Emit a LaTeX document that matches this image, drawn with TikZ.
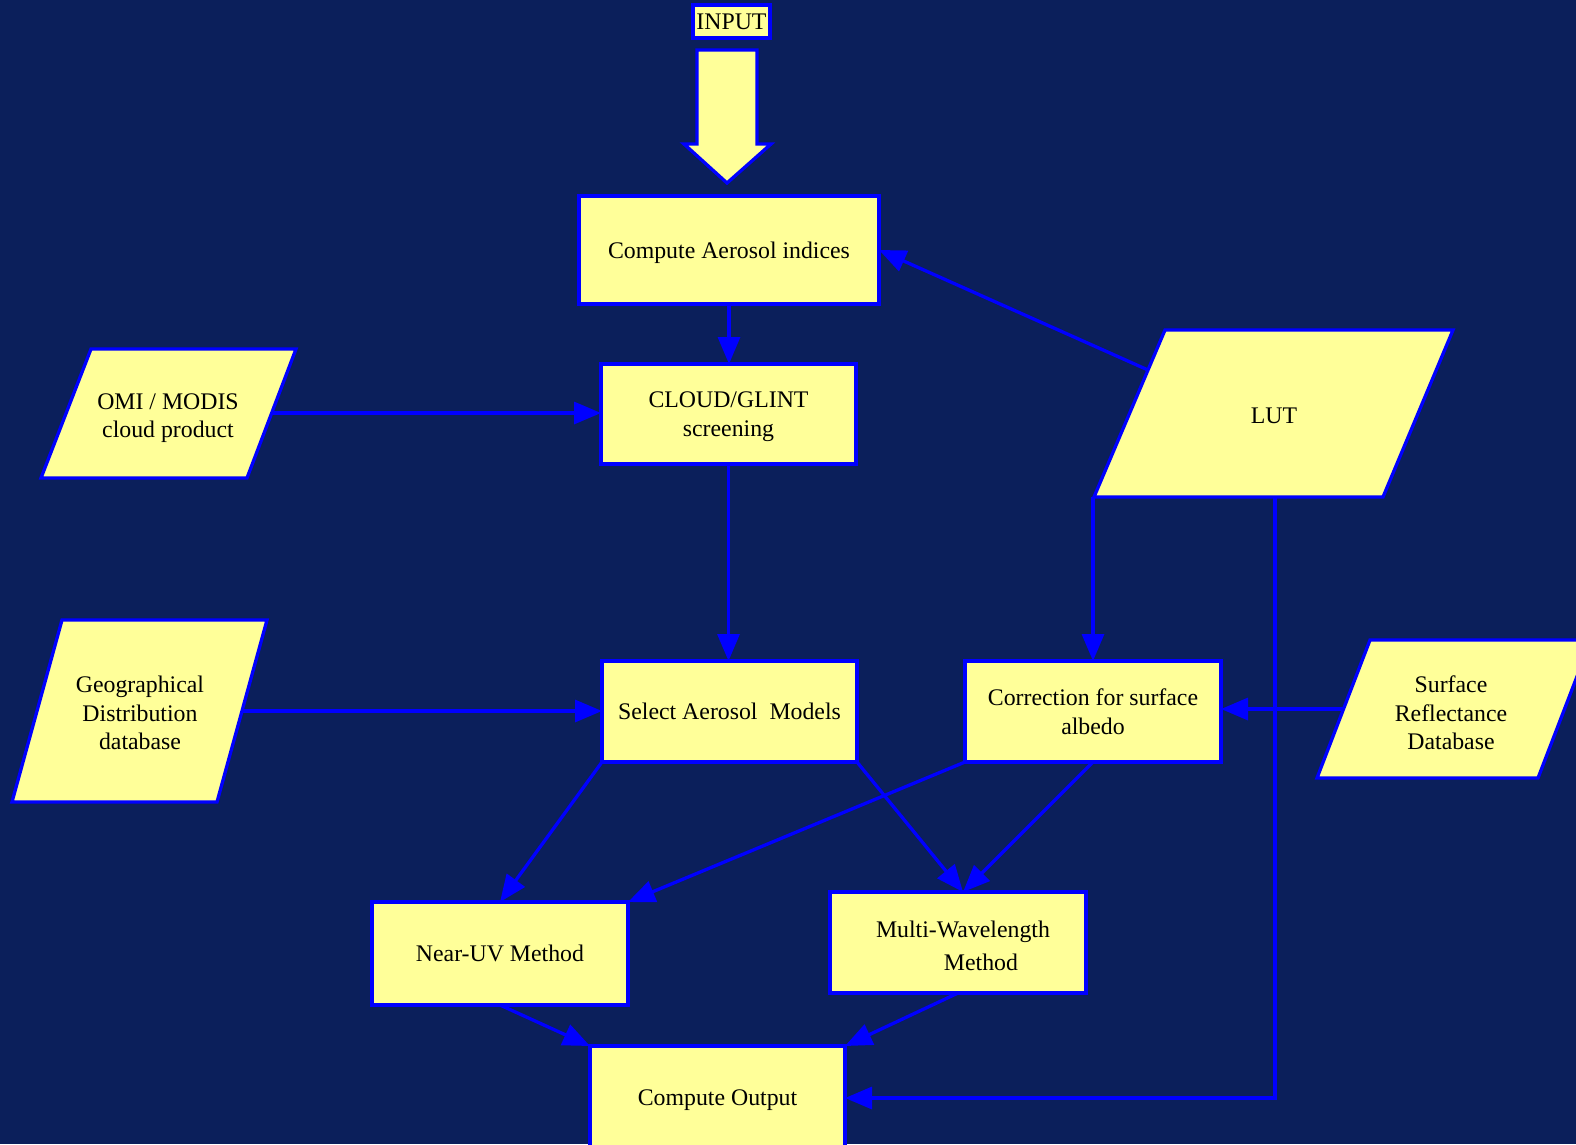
\documentclass[tikz,border=0pt]{standalone}
\usepackage{fontspec}
\setmainfont{Liberation Serif}
\usetikzlibrary{arrows.meta,calc}
\definecolor{bgnavy}{RGB}{11,31,91}
\definecolor{boxfill}{RGB}{255,255,153}
\definecolor{edgeblue}{RGB}{0,0,255}
\begin{document}
\begin{tikzpicture}[x=1pt,y=-1pt,
  every node/.style={font=\fontsize{23.8}{28.6}\selectfont, text=black},
  procbox/.style={draw=edgeblue, fill=boxfill, line width=3.3pt, inner sep=0pt, outer sep=0pt, align=center, text depth=0pt},
  databox/.style={draw=edgeblue, fill=boxfill, line width=3.3pt, line join=miter},
  lbl/.style={align=center, inner sep=0pt},
  conn/.style={draw=edgeblue, line width=3.3pt, -{Triangle[length=27pt,width=22pt]}},
  plainconn/.style={draw=edgeblue, line width=3.3pt}
]
\useasboundingbox (0,0) rectangle (1576,1144);
\fill[bgnavy] (0,0) rectangle (1576,1144);
\clip (0,0) rectangle (1576,1144);

% INPUT label and big arrow
\node[procbox, minimum width=77pt, minimum height=33pt] (input) at (731.5,21.5) {INPUT};
\draw[databox] (697,50) -- (757,50) -- (757,144) -- (771,144) -- (727,183) -- (684,144) -- (697,144) -- cycle;

% process boxes
\node[procbox, minimum width=300pt, minimum height=108pt] (cai) at (729,250) {Compute Aerosol indices};
\node[procbox, minimum width=255pt, minimum height=100pt] (cloud) at (728.5,414) {CLOUD/GLINT\\screening};
\node[procbox, minimum width=255pt, minimum height=101pt] (select) at (729.5,711.5) {Select Aerosol~ Models};
\node[procbox, minimum width=256pt, minimum height=101pt] (corr) at (1093,711.5) {Correction for surface\\albedo};
\node[procbox, minimum width=256pt, minimum height=103pt] (nearuv) at (500,953.5) {Near-UV Method};
\node[procbox, minimum width=256pt, minimum height=101pt] (multi) at (958,942.5) {};
\node[lbl] (multitxt) at (963,946) {Multi-Wavelength\\[4.5pt]\hspace*{36pt}Method};
\node[procbox, minimum width=255pt, minimum height=104pt] (output) at (717.5,1098) {Compute Output};

% data parallelograms
\draw[databox] (91,349) -- (296,349) -- (247,478) -- (41,478) -- cycle;
\node[lbl] (omi) at (168,418) {OMI / MODIS\\cloud product};
\draw[databox] (1165,330) -- (1453,330) -- (1383,497) -- (1094,497) -- cycle;
\node[lbl] (lut) at (1274,416) {LUT};
\draw[databox] (62,620) -- (267,620) -- (217,802) -- (12,802) -- cycle;
\node[lbl] (geo) at (140,713) {Geographical\\Distribution\\database};
\draw[databox] (1370,640) -- (1591,640) -- (1538,778) -- (1317,778) -- cycle;
\node[lbl] (surf) at (1451,713) {Surface\\Reflectance\\Database};

% connector end points on parallelogram edges
\coordinate (omiE) at (272,413);
\coordinate (geoE) at (242,711);
\coordinate (surfW) at (1343,709);
\coordinate (lutW) at (1148,370);
\coordinate (lutBL) at (1093,497);
\coordinate (lutB) at (1275,497);

% connectors
\draw[conn] (cai.south) -- (cai.south |- cloud.north);
\draw[conn] (omiE) -- (omiE -| cloud.west);
\draw[conn] (cloud.south) -- (cloud.south |- select.north);
\draw[conn] (geoE) -- (geoE -| select.west);
\draw[conn] (surfW) -- (surfW -| corr.east);
\draw[conn] (lutW) -- (cai.east);
\draw[conn] (lutBL) -- (lutBL |- corr.north);
\draw[conn] (lutB) |- (output.east);
\draw[conn] (select.south west) -- (nearuv.north);
\draw[conn] (select.south east) -- ([xshift=5pt]multi.north);
\draw[conn] (corr.south west) -- (nearuv.north east);
\draw[conn] (corr.south) -- ([xshift=5pt]multi.north);
\draw[conn] (nearuv.south) -- (output.north west);
\draw[conn] (multi.south) -- (output.north east);
\end{tikzpicture}
\end{document}
